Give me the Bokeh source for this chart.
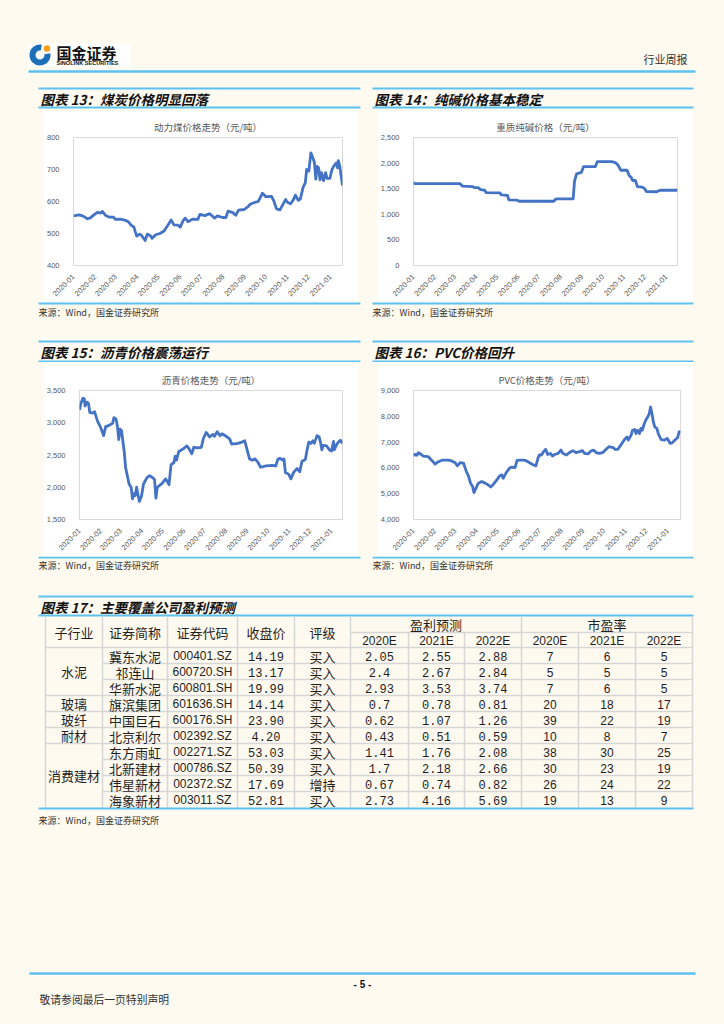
import math
import pandas as pd
from bokeh.plotting import figure
from bokeh.models import (Range1d, FixedTicker, DatetimeTickFormatter, NumeralTickFormatter,
                          Spacer, GlobalInlineStyleSheet)
from bokeh.layouts import column, row
from bokeh.core.properties import value
from bokeh.embed import file_html
from bokeh.resources import INLINE

# ------------------------------------------------------------------ data
MONTH_TICKS = ["2020-01", "2020-02", "2020-03", "2020-04", "2020-05", "2020-06", "2020-07",
               "2020-08", "2020-09", "2020-10", "2020-11", "2020-12", "2021-01"]

coal_dates = ["2020-01-01", "2020-01-09", "2020-01-14", "2020-01-21", "2020-01-25", "2020-01-30", "2020-02-04", "2020-02-09", "2020-02-11", "2020-02-16",
              "2020-02-21", "2020-02-27", "2020-03-01", "2020-03-08", "2020-03-15", "2020-03-19", "2020-03-23", "2020-03-27", "2020-03-29", "2020-03-31",
              "2020-04-04", "2020-04-07", "2020-04-12", "2020-04-15", "2020-04-19", "2020-04-22", "2020-04-27", "2020-05-03", "2020-05-09", "2020-05-15",
              "2020-05-19", "2020-05-23", "2020-05-29", "2020-06-01", "2020-06-05", "2020-06-08", "2020-06-12", "2020-06-19", "2020-06-26", "2020-06-29",
              "2020-07-06", "2020-07-13", "2020-07-20", "2020-07-24", "2020-07-31", "2020-08-05", "2020-08-08", "2020-08-15", "2020-08-19", "2020-08-23",
              "2020-08-31", "2020-09-06", "2020-09-09", "2020-09-15", "2020-09-20", "2020-09-23", "2020-09-26", "2020-10-01", "2020-10-09", "2020-10-12",
              "2020-10-16", "2020-10-21", "2020-10-25", "2020-10-29", "2020-11-01", "2020-11-05", "2020-11-09", "2020-11-12", "2020-11-16", "2020-11-19",
              "2020-11-23", "2020-11-26", "2020-11-28", "2020-12-01", "2020-12-04", "2020-12-07", "2020-12-09", "2020-12-11", "2020-12-13", "2020-12-15",
              "2020-12-17", "2020-12-19", "2020-12-22", "2020-12-25", "2020-12-27", "2020-12-31", "2021-01-03", "2021-01-06", "2021-01-09", "2021-01-11",
              "2021-01-12", "2021-01-14", "2021-01-16", "2021-01-18"]
coal_vals = [555, 558, 555, 546, 549, 558, 566, 564, 569, 556,
             551, 551, 544, 545, 541, 537, 526, 520, 505, 492,
             498, 494, 478, 498, 494, 485, 496, 500, 508, 528,
             542, 527, 526, 520, 540, 548, 537, 545, 544, 560,
             556, 562, 548, 555, 550, 550, 570, 565, 557, 573,
             575, 585, 592, 597, 600, 613, 626, 615, 616, 603,
             577, 574, 590, 606, 597, 593, 605, 620, 604, 608,
             645, 658, 700, 695, 752, 735, 722, 670, 710, 705,
             668, 690, 665, 690, 672, 672, 700, 712, 720, 705,
             728, 712, 680, 650]
coal_yticks = [400, 500, 600, 700, 800]

soda_dates = ["2020-01-01", "2020-01-03", "2020-03-08", "2020-03-12", "2020-03-27", "2020-03-29", "2020-04-04", "2020-04-07", "2020-04-13", "2020-04-15",
              "2020-05-05", "2020-05-07", "2020-05-16", "2020-05-18", "2020-05-30", "2020-06-02", "2020-07-22", "2020-07-25", "2020-08-19", "2020-08-21",
              "2020-08-24", "2020-08-31", "2020-09-03", "2020-09-20", "2020-09-23", "2020-10-14", "2020-10-19", "2020-10-23", "2020-10-27", "2020-11-05",
              "2020-11-08", "2020-11-11", "2020-11-13", "2020-11-17", "2020-11-20", "2020-11-27", "2020-11-30", "2020-12-03", "2020-12-18", "2020-12-21",
              "2020-12-25", "2021-01-17"]
soda_vals = [1620, 1600, 1600, 1550, 1540, 1520, 1520, 1480, 1470, 1425,
             1420, 1380, 1370, 1280, 1275, 1255, 1255, 1300, 1300, 1650,
             1790, 1820, 1930, 1930, 2030, 2030, 2010, 1960, 1860, 1860,
             1760, 1720, 1660, 1660, 1540, 1530, 1510, 1445, 1440, 1460,
             1470, 1470]
soda_yticks = [0, 500, 1000, 1500, 2000, 2500]

asph_dates = ["2020-01-01", "2020-01-03", "2020-01-06", "2020-01-08", "2020-01-09", "2020-01-12", "2020-01-14", "2020-01-16", "2020-01-20", "2020-01-23",
              "2020-01-27", "2020-02-01", "2020-02-05", "2020-02-08", "2020-02-13", "2020-02-18", "2020-02-20", "2020-02-23", "2020-02-25", "2020-02-27",
              "2020-02-29", "2020-03-02", "2020-03-06", "2020-03-08", "2020-03-13", "2020-03-16", "2020-03-18", "2020-03-20", "2020-03-22", "2020-03-24",
              "2020-03-26", "2020-03-28", "2020-03-31", "2020-04-03", "2020-04-08", "2020-04-12", "2020-04-16", "2020-04-19", "2020-04-21", "2020-04-23",
              "2020-04-30", "2020-05-05", "2020-05-07", "2020-05-10", "2020-05-13", "2020-05-17", "2020-05-19", "2020-05-21", "2020-05-24", "2020-05-31",
              "2020-06-05", "2020-06-08", "2020-06-12", "2020-06-15", "2020-06-21", "2020-06-26", "2020-06-29", "2020-07-03", "2020-07-08", "2020-07-13",
              "2020-07-15", "2020-07-19", "2020-07-23", "2020-07-26", "2020-08-01", "2020-08-06", "2020-08-09", "2020-08-18", "2020-08-24", "2020-08-28",
              "2020-08-31", "2020-09-04", "2020-09-08", "2020-09-12", "2020-09-16", "2020-09-20", "2020-09-28", "2020-10-07", "2020-10-12", "2020-10-15",
              "2020-10-18", "2020-10-22", "2020-10-24", "2020-10-26", "2020-10-31", "2020-11-03", "2020-11-07", "2020-11-12", "2020-11-16", "2020-11-19",
              "2020-11-24", "2020-11-27", "2020-11-29", "2020-12-02", "2020-12-05", "2020-12-07", "2020-12-11", "2020-12-14", "2020-12-16", "2020-12-18",
              "2020-12-20", "2020-12-25", "2020-12-29", "2021-01-01", "2021-01-04", "2021-01-05", "2021-01-08", "2021-01-11", "2021-01-14", "2021-01-17"]
asph_vals = [3200, 3300, 3380, 3370, 3260, 3320, 3300, 3160, 3150, 3170,
             3030, 2920, 2800, 2940, 2960, 2990, 3080, 3060, 2950, 2740,
             2900, 2880, 2550, 2300, 2050, 2000, 1820, 1900, 1870, 2000,
             1880, 1780, 1860, 2050, 2150, 2180, 2150, 2120, 1830, 2000,
             2060, 2130, 2100, 2040, 2350, 2380, 2480, 2420, 2550, 2600,
             2640, 2600, 2520, 2620, 2610, 2620, 2760, 2850, 2780, 2820,
             2790, 2860, 2800, 2830, 2790, 2750, 2670, 2680, 2700, 2720,
             2600, 2440, 2420, 2440, 2390, 2310, 2330, 2340, 2330, 2430,
             2450, 2420, 2440, 2230, 2200, 2130, 2230, 2290, 2240, 2400,
             2430, 2600, 2700, 2680, 2720, 2680, 2800, 2780, 2700, 2580,
             2650, 2640, 2580, 2560, 2710, 2580, 2650, 2700, 2730, 2680]
asph_yticks = [1500, 2000, 2500, 3000, 3500]

pvc_dates = ["2020-01-01", "2020-01-03", "2020-01-06", "2020-01-08", "2020-01-11", "2020-01-15", "2020-01-22", "2020-01-27", "2020-02-01", "2020-02-06",
             "2020-02-11", "2020-02-15", "2020-02-20", "2020-02-25", "2020-03-01", "2020-03-04", "2020-03-08", "2020-03-13", "2020-03-17", "2020-03-20",
             "2020-03-23", "2020-03-26", "2020-03-28", "2020-03-31", "2020-04-03", "2020-04-08", "2020-04-13", "2020-04-17", "2020-04-21", "2020-04-25",
             "2020-04-29", "2020-05-04", "2020-05-07", "2020-05-09", "2020-05-13", "2020-05-18", "2020-05-21", "2020-05-26", "2020-05-29", "2020-06-02",
             "2020-06-07", "2020-06-11", "2020-06-16", "2020-06-21", "2020-06-25", "2020-06-28", "2020-06-30", "2020-07-03", "2020-07-06", "2020-07-09",
             "2020-07-12", "2020-07-16", "2020-07-19", "2020-07-22", "2020-07-27", "2020-07-31", "2020-08-03", "2020-08-08", "2020-08-12", "2020-08-17",
             "2020-08-22", "2020-08-27", "2020-08-31", "2020-09-03", "2020-09-08", "2020-09-12", "2020-09-16", "2020-09-20", "2020-09-24", "2020-09-29",
             "2020-10-04", "2020-10-08", "2020-10-14", "2020-10-17", "2020-10-21", "2020-10-25", "2020-10-30", "2020-11-03", "2020-11-05", "2020-11-09",
             "2020-11-11", "2020-11-14", "2020-11-16", "2020-11-18", "2020-11-21", "2020-11-23", "2020-11-25", "2020-11-28", "2020-11-30", "2020-12-03",
             "2020-12-05", "2020-12-07", "2020-12-09", "2020-12-11", "2020-12-13", "2020-12-16", "2020-12-18", "2020-12-22", "2020-12-27", "2020-12-31",
             "2021-01-04", "2021-01-07", "2021-01-11", "2021-01-15", "2021-01-17", "2021-01-19"]
pvc_vals = [6480, 6525, 6490, 6590, 6540, 6460, 6440, 6300, 6150, 6240,
            6300, 6300, 6300, 6270, 6200, 6080, 6200, 6180, 5860, 5690,
            5410, 5280, 5040, 5220, 5400, 5470, 5410, 5350, 5260, 5370,
            5510, 5690, 5730, 5600, 5800, 5990, 6030, 6010, 6290, 6300,
            6300, 6280, 6200, 6120, 6080, 6370, 6500, 6500, 6630, 6720,
            6520, 6560, 6460, 6520, 6560, 6690, 6560, 6500, 6590, 6670,
            6590, 6630, 6670, 6560, 6540, 6650, 6690, 6590, 6560, 6590,
            6720, 6820, 6790, 6720, 6720, 6880, 7080, 7200, 7080, 7270,
            7460, 7490, 7330, 7460, 7330, 7530, 7460, 7720, 7850, 7980,
            8100, 8360, 8100, 7780, 7590, 7530, 7330, 7100, 7080, 7140,
            6950, 6970, 7080, 7180, 7400, 7360]
pvc_yticks = [4000, 5000, 6000, 7000, 8000, 9000]

# table
table_sub_names = ["水泥", "玻璃", "玻纤", "耐材", "消费建材"]
table_sub_rows = [3, 1, 1, 1, 4]
table_names = ["冀东水泥", "祁连山", "华新水泥", "旗滨集团", "中国巨石", "北京利尔", "东方雨虹", "北新建材", "伟星新材", "海象新材"]
table_codes = ["000401.SZ", "600720.SH", "600801.SH", "601636.SH", "600176.SH", "002392.SZ", "002271.SZ", "000786.SZ", "002372.SZ", "003011.SZ"]
table_close = [14.19, 13.17, 19.99, 14.14, 23.90, 4.20, 53.03, 50.39, 17.69, 52.81]
table_rating = ["买入", "买入", "买入", "买入", "买入", "买入", "买入", "买入", "增持", "买入"]
eps_2020 = [2.05, 2.4, 2.93, 0.7, 0.62, 0.43, 1.41, 1.7, 0.67, 2.73]
eps_2021 = [2.55, 2.67, 3.53, 0.78, 1.07, 0.51, 1.76, 2.18, 0.74, 4.16]
eps_2022 = [2.88, 2.84, 3.74, 0.81, 1.26, 0.59, 2.08, 2.66, 0.82, 5.69]
pe_2020 = [7, 5, 7, 20, 39, 10, 38, 30, 26, 19]
pe_2021 = [6, 5, 6, 18, 22, 8, 30, 23, 24, 13]
pe_2022 = [5, 5, 5, 17, 19, 7, 25, 19, 22, 9]
table_head = ["子行业", "证券简称", "证券代码", "收盘价", "评级"]
table_groups = ["盈利预测", "市盈率"]
table_years = ["2020E", "2021E", "2022E"]

# ------------------------------------------------------------------ style
BG = "#FEFAF0"
BLUE = "#5DC2F0"
SERIES = "#4472C4"
CJK = "Noto Sans CJK SC"
SANS = "Liberation Sans"
MONO = "Liberation Mono"
INK = "#1E1E1E"
GRID = "#D6D6D6"
SOURCE = "来源：Wind，国金证券研究所"
PAGE_W = 724


def page(y0, y1):
    p = figure(width=PAGE_W, height=y1 - y0, x_range=Range1d(0, PAGE_W), y_range=Range1d(y1, y0),
               x_axis_type=None, y_axis_type=None, output_backend="svg",
               toolbar_location=None, min_border=0)
    p.background_fill_color = BG
    p.border_fill_color = BG
    p.outline_line_color = None
    return p


def hline(p, x0, x1, y, color=BLUE, w=2.0):
    p.segment(x0=[x0], y0=[y], x1=[x1], y1=[y], line_color=color, line_width=w)


def vline(p, x, y0, y1, color=GRID, w=1.5):
    p.segment(x0=[x], y0=[y0], x1=[x], y1=[y1], line_color=color, line_width=w)


def txt(p, x, y, s, size="12px", font=CJK, style="normal", color=INK, align="left"):
    p.text(x=[x], y=[y], text=[s], text_font=value(font), text_font_size=size,
           text_font_style=style, text_color=color, text_align=align, text_baseline="middle")


def bar_title(p, x0, x1, ytop, ybot, s):
    hline(p, x0, x1, ytop)
    hline(p, x0, x1, ybot)
    txt(p, x0 + 2, (ytop + ybot) / 2 + 0.5, s, size="13.5px", style="bold italic", color="#111111")


def chart(title, dates, vals, yticks, w, h, bl, br, bt, bb):
    xs = pd.to_datetime(dates)
    p = figure(width=w, height=h, x_axis_type="datetime", output_backend="svg",
               toolbar_location=None, x_range=Range1d(xs[0], xs[-1]),
               y_range=Range1d(yticks[0], yticks[-1]),
               min_border_left=bl, min_border_right=br, min_border_top=bt, min_border_bottom=bb)
    p.line(xs, vals, line_color=SERIES, line_width=2.8, line_join="round")
    p.title.text = title
    p.title.align = "center"
    p.title.text_font = CJK
    p.title.text_font_size = "9.5px"
    p.title.text_font_style = "normal"
    p.title.text_color = "#595959"
    p.title.standoff = 8
    p.background_fill_color = "white"
    p.border_fill_color = "white"
    p.outline_line_color = "#D9D9D9"
    p.xgrid.visible = False
    p.ygrid.visible = False
    p.xaxis.ticker = FixedTicker(ticks=[pd.Timestamp(m + "-01").timestamp() * 1000 for m in MONTH_TICKS])
    p.xaxis.formatter = DatetimeTickFormatter(days="%Y-%m", months="%Y-%m", years="%Y-%m")
    p.xaxis.major_label_orientation = math.pi / 4
    p.yaxis.ticker = FixedTicker(ticks=yticks)
    p.yaxis.formatter = NumeralTickFormatter(format="0,0")
    for ax in (p.xaxis[0], p.yaxis[0]):
        ax.axis_line_color = None
        ax.major_tick_line_color = None
        ax.minor_tick_line_color = None
        ax.major_label_text_color = "#595959"
        ax.major_label_text_font = SANS
    p.yaxis.major_label_text_font_size = "7.5px"
    p.yaxis.major_label_standoff = 8
    p.xaxis.major_label_text_font_size = "7.5px"
    p.xaxis.major_label_standoff = 4
    return p


# ------------------------------------------------------------------ row 1: header
r1 = page(0, 110)
r1.quad(left=[28], right=[130], top=[43], bottom=[66], fill_color="white", line_color=None)
r1.annular_wedge(x=[39.5], y=[54.5], inner_radius=4.5, outer_radius=10.5,
                 start_angle=math.radians(80), end_angle=math.radians(370),
                 fill_color="#1D6FB8", line_color=None)
r1.circle(x=[46.5], y=[48], radius=3.3, fill_color="#F6A01A", line_color=None)
txt(r1, 56, 51.5, "国金证券", size="15px", style="bold", color="#111111")
txt(r1, 56, 62.5, "SINOLINK SECURITIES", size="5.6px", font=SANS, style="bold", color="#111111")
txt(r1, 687, 58, "行业周报", size="11px", color="#333333", align="right")
hline(r1, 28, 695, 71, w=2.5)
bar_title(r1, 38, 360, 88, 107, "图表 13：煤炭价格明显回落")
bar_title(r1, 372, 693, 88, 107, "图表 14：纯碱价格基本稳定")

# ------------------------------------------------------------------ row 2: charts 13 & 14
c13 = chart("动力煤价格走势（元/吨）", coal_dates, coal_vals, coal_yticks, 315, 191, 28, 16, 27, 34)
c14 = chart("重质纯碱价格（元/吨）", soda_dates, soda_vals, soda_yticks, 316, 191, 34, 16, 27, 34)
r2 = row(Spacer(width=43, height=191), c13, Spacer(width=19, height=191), c14, Spacer(width=31, height=191))

# ------------------------------------------------------------------ row 3
r3 = page(301, 362)
hline(r3, 38, 360, 303)
hline(r3, 372, 693, 303)
txt(r3, 38, 312, SOURCE, size="9px", color="#333333")
txt(r3, 372, 312, SOURCE, size="9px", color="#333333")
bar_title(r3, 38, 360, 341, 361, "图表 15：沥青价格震荡运行")
bar_title(r3, 372, 693, 341, 361, "图表 16：PVC价格回升")

# ------------------------------------------------------------------ row 4: charts 15 & 16
c15 = chart("沥青价格走势（元/吨）", asph_dates, asph_vals, asph_yticks, 315, 194, 34, 16, 28, 37)
c16 = chart("PVC价格走势（元/吨）", pvc_dates, pvc_vals, pvc_yticks, 316, 194, 35, 13, 28, 36)
r4 = row(Spacer(width=43, height=194), c15, Spacer(width=19, height=194), c16, Spacer(width=31, height=194))

# ------------------------------------------------------------------ row 5: table + footer
r5 = page(556, 1024)
hline(r5, 38, 360, 557)
hline(r5, 372, 693, 557)
txt(r5, 38, 565, SOURCE, size="9px", color="#333333")
txt(r5, 372, 565, SOURCE, size="9px", color="#333333")
bar_title(r5, 38, 693, 596, 615, "图表 17：主要覆盖公司盈利预测")

cols = [45, 102, 167, 237, 294, 350, 408, 464, 521, 578, 635, 692]
ctr = [(cols[i] + cols[i + 1]) / 2 for i in range(len(cols) - 1)]
top, mid, body, rh = 616, 632, 647, 16
nrows = len(table_names)
bottom = body + rh * nrows
inner_year_cols = {cols[6], cols[7], cols[9], cols[10]}
for x in cols:
    vline(r5, x, mid if x in inner_year_cols else top, bottom)
hline(r5, cols[5], cols[-1], mid, color=GRID, w=1.5)
hline(r5, cols[0], cols[-1], body, color=GRID, w=1.5)
bounds = []
acc = 0
for n in table_sub_rows:
    acc += n
    bounds.append(acc)
for i in range(1, nrows):
    hline(r5, cols[0] if i in bounds else cols[1], cols[-1], body + rh * i, color=GRID, w=1.5)
hline(r5, 38, 693, bottom + 1, w=2.0)

CN = "13px"
for j, h in enumerate(table_head):
    txt(r5, ctr[j], (top + body) / 2, h, size=CN, align="center")
txt(r5, (cols[5] + cols[8]) / 2, (top + mid) / 2, table_groups[0], size=CN, align="center")
txt(r5, (cols[8] + cols[11]) / 2, (top + mid) / 2, table_groups[1], size=CN, align="center")
for k, yr in enumerate(table_years):
    txt(r5, ctr[5 + k], (mid + body) / 2 + 0.5, yr, size="12px", font=SANS, align="center")
    txt(r5, ctr[8 + k], (mid + body) / 2 + 0.5, yr, size="12px", font=SANS, align="center")

start = 0
for name, n in zip(table_sub_names, table_sub_rows):
    txt(r5, ctr[0], body + rh * (start + n / 2), name, size=CN, align="center")
    start += n

for i in range(nrows):
    yc = body + rh * i + rh / 2 + 0.5
    txt(r5, ctr[1], yc, table_names[i], size=CN, align="center")
    txt(r5, ctr[2], yc, table_codes[i], size="12px", font=SANS, align="center")
    txt(r5, ctr[3], yc, f"{table_close[i]:.2f}", size="12px", font=MONO, align="center")
    txt(r5, ctr[4], yc, table_rating[i], size=CN, align="center")
    for k, arr in enumerate((eps_2020, eps_2021, eps_2022)):
        txt(r5, ctr[5 + k], yc, f"{arr[i]}", size="12px", font=MONO, align="center")
    for k, arr in enumerate((pe_2020, pe_2021, pe_2022)):
        txt(r5, ctr[8 + k], yc, f"{arr[i]}", size="12px", font=SANS, align="center")

txt(r5, 38, 820, SOURCE, size="9px", color="#333333")
hline(r5, 29, 695, 973, w=2.5)
txt(r5, 362, 984, "- 5 -", size="10px", font=SANS, style="bold", color="#111111", align="center")
txt(r5, 39, 998, "敬请参阅最后一页特别声明", size="10.8px", color="#333333")

root = column(r1, r2, r3, r4, r5)
root.stylesheets = [GlobalInlineStyleSheet(css="body { background-color: #FEFAF0; }")]

open("out.html", "w").write(file_html(root, INLINE))
